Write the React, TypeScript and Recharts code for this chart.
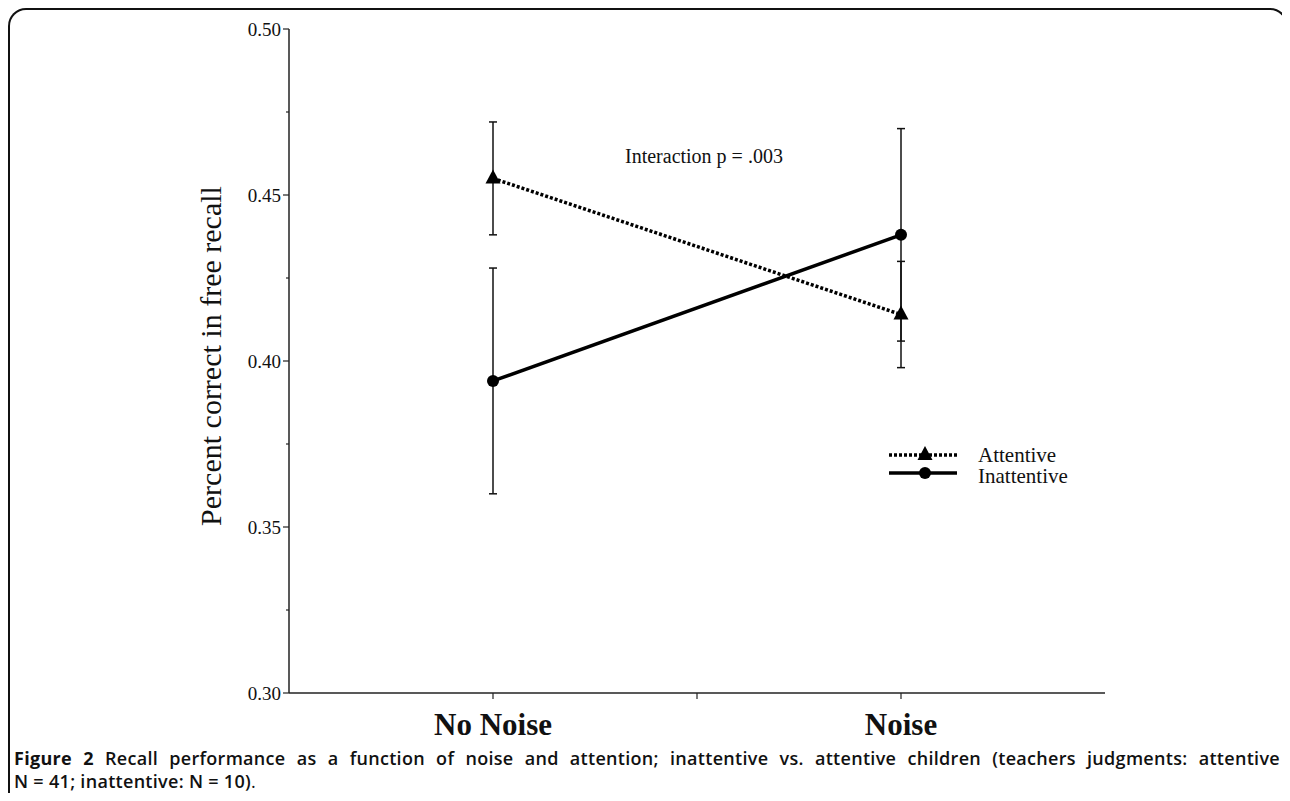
import React from 'react';
import { LineChart, Line, XAxis, YAxis, ErrorBar, Legend } from 'recharts';

const categories = ['No Noise', 'Noise'];
const categoryPositions = [1, 3];
const xTicks = [1, 2, 3];
const seriesNames = ['Attentive', 'Inattentive'];
const attentive = [0.455, 0.414];
const attentiveErr = [0.017, 0.016];
const inattentive = [0.394, 0.438];
const inattentiveErr = [0.034, 0.032];
const yTicks = [0.3, 0.325, 0.35, 0.375, 0.4, 0.425, 0.45, 0.475, 0.5];
const yMajorTicks = [0.3, 0.35, 0.4, 0.45, 0.5];
const annotation = 'Interaction p = .003';
const captionBold = 'Figure 2';
const captionLine1 =
  ' Recall performance as a function of noise and attention; inattentive vs. attentive children (teachers judgments: attentive';
const captionLine2 = 'N = 41; inattentive: N = 10)';

const data = categories.map((c, i) => ({
  x: categoryPositions[i],
  cat: c,
  att: attentive[i],
  attErr: attentiveErr[i],
  inatt: inattentive[i],
  inattErr: inattentiveErr[i],
}));

const SERIF = '"Liberation Serif", "Times New Roman", serif';

const Triangle = (props: any) => {
  const { cx, cy } = props;
  if (cx == null || cy == null) return null;
  return <path d={`M${cx},${cy - 9} L${cx + 7.5},${cy + 5} L${cx - 7.5},${cy + 5} Z`} fill="#000" />;
};

const Circle = (props: any) => {
  const { cx, cy } = props;
  if (cx == null || cy == null) return null;
  return <circle cx={cx} cy={cy} r={6} fill="#000" />;
};

const YTick = (props: any) => {
  const { x, y, payload } = props;
  const v = payload.value;
  const major = yMajorTicks.some((m) => Math.abs(m - v) < 1e-6);
  if (!major) return <line x1={x - 3} x2={x} y1={y} y2={y} stroke="#222" strokeWidth={1.2} />;
  return (
    <g>
      <line x1={x - 6} x2={x} y1={y} y2={y} stroke="#222" strokeWidth={1.2} />
      <text x={x - 8} y={y} dy="0.35em" textAnchor="end" fontFamily={SERIF} fontSize={19} fill="#111">
        {v.toFixed(2)}
      </text>
    </g>
  );
};

const XTick = (props: any) => {
  const { x, y, payload } = props;
  const idx = categoryPositions.indexOf(payload.value);
  return (
    <g>
      <line x1={x} x2={x} y1={y} y2={y + 6} stroke="#222" strokeWidth={1.2} />
      {idx >= 0 && (
        <text x={x} y={y + 42} textAnchor="middle" fontFamily={SERIF} fontWeight="bold" fontSize={31} fill="#111">
          {categories[idx]}
        </text>
      )}
    </g>
  );
};

const YLabel = (props: any) => {
  const { viewBox } = props;
  const cx = viewBox.x + 1;
  const cy = viewBox.y + viewBox.height / 2 - 5;
  return (
    <text
      x={cx}
      y={cy}
      transform={`rotate(-90, ${cx}, ${cy})`}
      textAnchor="middle"
      dy="0.35em"
      fontFamily={SERIF}
      fontSize={30}
      fill="#111"
    >
      Percent correct in free recall
    </text>
  );
};

const LegendContent = () => (
  <svg width={240} height={56} style={{ display: 'block', overflow: 'visible' }}>
    <line x1={0} x2={68} y1={10} y2={10} stroke="#000" strokeWidth={3.5} strokeDasharray="3 2" />
    <path d="M36,1 L43.5,15 L28.5,15 Z" fill="#000" />
    <text x={89} y={17} fontFamily={SERIF} fontSize={21} fill="#111">
      {seriesNames[0]}
    </text>
    <line x1={0} x2={68} y1={28} y2={28} stroke="#000" strokeWidth={3.5} />
    <circle cx={36} cy={28} r={6} fill="#000" />
    <text x={89} y={38} fontFamily={SERIF} fontSize={21} fill="#111">
      {seriesNames[1]}
    </text>
  </svg>
);

export default function App() {
  return (
    <div
      style={{
        position: 'relative',
        width: 1280,
        height: 793,
        marginBottom: -8,
        boxSizing: 'border-box',
        border: '2px solid #111',
        borderBottom: 'none',
        borderRadius: '18px 18px 0 0',
      }}
    >
      <div style={{ position: 'absolute', left: -2, top: -2 }}>
        <LineChart width={1274} height={785} data={data} margin={{ top: 21, right: 177, bottom: 40, left: 201 }}>
          <XAxis
            dataKey="x"
            type="number"
            domain={[0, 4]}
            ticks={xTicks}
            tick={<XTick />}
            tickLine={false}
            tickSize={0}
            tickMargin={0}
            height={60}
            axisLine={{ stroke: '#222', strokeWidth: 1.5 }}
            interval={0}
          />
          <XAxis
            xAxisId="top"
            orientation="top"
            dataKey="x"
            type="number"
            domain={[0, 4]}
            tick={false}
            tickLine={false}
            height={0}
            axisLine={{ stroke: '#222', strokeWidth: 1.5 }}
          />
          <YAxis
            type="number"
            domain={[0.3, 0.5]}
            ticks={yTicks}
            tick={<YTick />}
            tickLine={false}
            tickSize={0}
            tickMargin={0}
            width={80}
            interval={0}
            axisLine={{ stroke: '#222', strokeWidth: 1.5 }}
            label={<YLabel />}
          />
          <YAxis
            yAxisId="right"
            orientation="right"
            type="number"
            domain={[0.3, 0.5]}
            tick={false}
            tickLine={false}
            width={0}
            axisLine={{ stroke: '#222', strokeWidth: 1.5 }}
          />
          <Legend
            layout="horizontal"
            verticalAlign="middle"
            align="center"
            content={<LegendContent />}
            wrapperStyle={{ position: 'absolute', left: 881, top: 437, width: 240, height: 56 }}
          />
          <Line
            dataKey="att"
            name={seriesNames[0]}
            stroke="#000"
            strokeWidth={3.5}
            strokeDasharray="3 2"
            dot={<Triangle />}
            activeDot={false}
            isAnimationActive={false}
          >
            <ErrorBar dataKey="attErr" direction="y" width={4} stroke="#111" strokeWidth={1.5} />
          </Line>
          <Line
            dataKey="inatt"
            name={seriesNames[1]}
            stroke="#000"
            strokeWidth={3.5}
            dot={<Circle />}
            activeDot={false}
            isAnimationActive={false}
          >
            <ErrorBar dataKey="inattErr" direction="y" width={4} stroke="#111" strokeWidth={1.5} />
          </Line>
        </LineChart>
        <svg
          width={1274}
          height={785}
          style={{ position: 'absolute', left: 0, top: 0, pointerEvents: 'none' }}
        >
          <text x={617} y={155} fontFamily={SERIF} fontSize={20} fill="#111">
            {annotation}
          </text>
        </svg>
      </div>
      <div
        style={{
          position: 'absolute',
          left: 4,
          top: 737,
          width: 1266,
          fontFamily: '"Open Sans", "Noto Sans", sans-serif',
          fontSize: 18,
          letterSpacing: '0.3px',
          lineHeight: '23px',
          fontWeight: 600,
          color: '#111',
        }}
      >
        <div style={{ textAlign: 'justify', textAlignLast: 'justify', whiteSpace: 'nowrap' as any }}>
          <span style={{ fontWeight: 700 }}>{captionBold}</span>
          {captionLine1}
        </div>
        <div>
          {captionLine2}
          <span style={{ fontWeight: 400 }}>.</span>
        </div>
      </div>
    </div>
  );
}
